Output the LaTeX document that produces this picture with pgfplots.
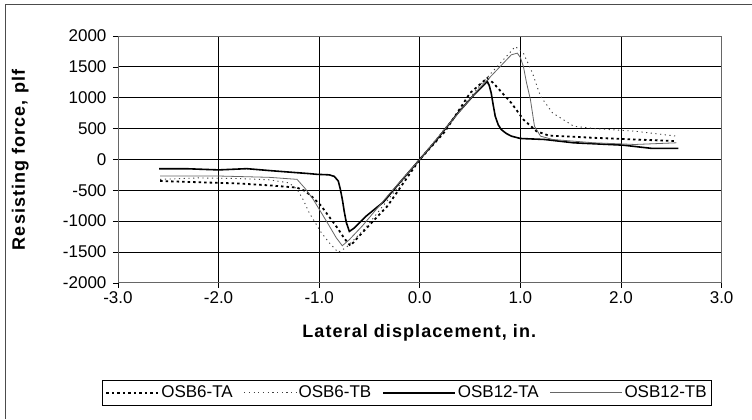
\documentclass[border=0pt]{standalone}
\usepackage{pgfplots}
\pgfplotsset{compat=1.18}
\usepackage{fontspec}
\setmainfont{Liberation Sans}
\pgfplotsset{
  leglen/.style={legend image code/.code={\draw[##1] (0pt,0pt) -- (#1,0pt);}},
}
\begin{document}
\begin{tikzpicture}[x=1pt,y=1pt]
\path (0,0) rectangle (752,419);
\draw[black!70, line width=0.8pt] (5,0) -- (5,415) -- (752,415);
\begin{axis}[
  at={(118pt,136pt)}, anchor=south west,
  scale only axis, width=604pt, height=247pt,
  xmin=-3, xmax=3, ymin=-2000, ymax=2000,
  xtick={-3,-2,...,3}, ytick={-2000,-1500,...,2000},
  xticklabel style={/pgf/number format/.cd, fixed, fixed zerofill, precision=1},
  yticklabel style={xshift=-3pt},
  /pgf/number format/1000 sep={},
  /pgf/number format/assume math mode=true,
  tick label style={font=\fontsize{17}{20}\selectfont},
  tick pos=left, tick align=outside, major tick length=5pt,
  tick style={black, line width=0.6pt},
  grid=major, major grid style={black, line width=0.7pt},
  axis line style={black!60, line width=0.8pt},
  xlabel={\textbf{Lateral displacement, in.}},
  ylabel={\textbf{Resisting force, plf}},
  label style={font=\fontsize{18}{21}\selectfont\addfontfeature{LetterSpace=6}},
  xlabel style={at={(axis description cs:0.5,-0.202)}, anchor=center},
  ylabel style={at={(axis description cs:-0.162,0.5)}, anchor=center},
  legend columns=4,
  legend style={at={(axis description cs:0.479,-0.445)}, anchor=center,
    draw=black, line width=0.6pt, font=\fontsize{17}{20}\selectfont,
    inner xsep=3pt, inner ysep=4pt,
    /tikz/every even column/.append style={column sep=9pt}},
  legend cell align=left,
]
% OSB6-TA
\addplot[black, line width=1.8pt, dash pattern=on 2.5pt off 3pt, leglen=52pt] coordinates {
(-2.58,-350) (-2.2,-370) (-1.8,-390) (-1.5,-420) (-1.22,-457) (-1.14,-511) (-1.06,-620)
(-0.98,-753) (-0.90,-930) (-0.81,-1130) (-0.75,-1280) (-0.69,-1399) (-0.57,-1184)
(-0.32,-753) (0,0) (0.25,450) (0.5,1076) (0.67,1318) (0.73,1240) (0.79,1130)
(0.91,915) (1.03,646) (1.16,457) (1.28,387) (1.73,350) (2.14,323) (2.55,296)
};
\addlegendentry{OSB6-TA}
% OSB6-TB
\addplot[black!75, line width=0.9pt, dash pattern=on 1.2pt off 3.5pt, leglen=52pt] coordinates {
(-2.58,-323) (-2.2,-300) (-1.8,-310) (-1.5,-330) (-1.3,-380) (-1.22,-484) (-1.16,-650)
(-1.1,-861) (-0.98,-1184) (-0.90,-1350) (-0.81,-1506) (-0.73,-1425) (-0.55,-1130)
(-0.3,-620) (0,0) (0.3,600) (0.6,1200) (0.85,1650) (0.95,1829) (1.03,1722)
(1.12,1399) (1.2,1022) (1.32,753) (1.53,538) (1.73,500) (2.14,457) (2.55,377)
};
\addlegendentry{OSB6-TB}
% OSB12-TA
\addplot[black, line width=1.6pt, leglen=72pt] coordinates {
(-2.59,-151) (-2.3,-152) (-2.0,-170) (-1.72,-150) (-1.5,-180) (-1.35,-199) (-1.1,-230)
(-1.02,-242) (-0.90,-250) (-0.85,-275) (-0.81,-350) (-0.79,-480) (-0.77,-645)
(-0.75,-850) (-0.73,-1022) (-0.70,-1167) (-0.65,-1110) (-0.53,-915) (-0.36,-689)
(-0.2,-377) (0,0) (0.17,323) (0.38,753) (0.54,1049) (0.62,1180) (0.67,1264)
(0.69,1200) (0.71,1076) (0.73,880) (0.75,700) (0.78,560) (0.81,484) (0.86,420)
(0.91,377) (1.0,339) (1.24,323) (1.53,269) (2.02,231) (2.31,178) (2.57,178)
};
\addlegendentry{OSB12-TA}
% OSB12-TB
\addplot[black!60, line width=0.8pt, leglen=72pt] coordinates {
(-2.58,-269) (-2.0,-269) (-1.5,-290) (-1.22,-323) (-1.14,-470) (-1.06,-645)
(-0.98,-860) (-0.9,-1076) (-0.83,-1270) (-0.77,-1399) (-0.70,-1300) (-0.57,-1076)
(-0.32,-592) (0,0) (0.3,592) (0.58,1130) (0.91,1695) (0.97,1722) (1.0,1650)
(1.03,1506) (1.06,1250) (1.1,968) (1.14,538) (1.2,377) (1.32,323) (1.73,269)
(2.14,242) (2.55,269)
};
\addlegendentry{OSB12-TB}
\end{axis}
\end{tikzpicture}
\end{document}
